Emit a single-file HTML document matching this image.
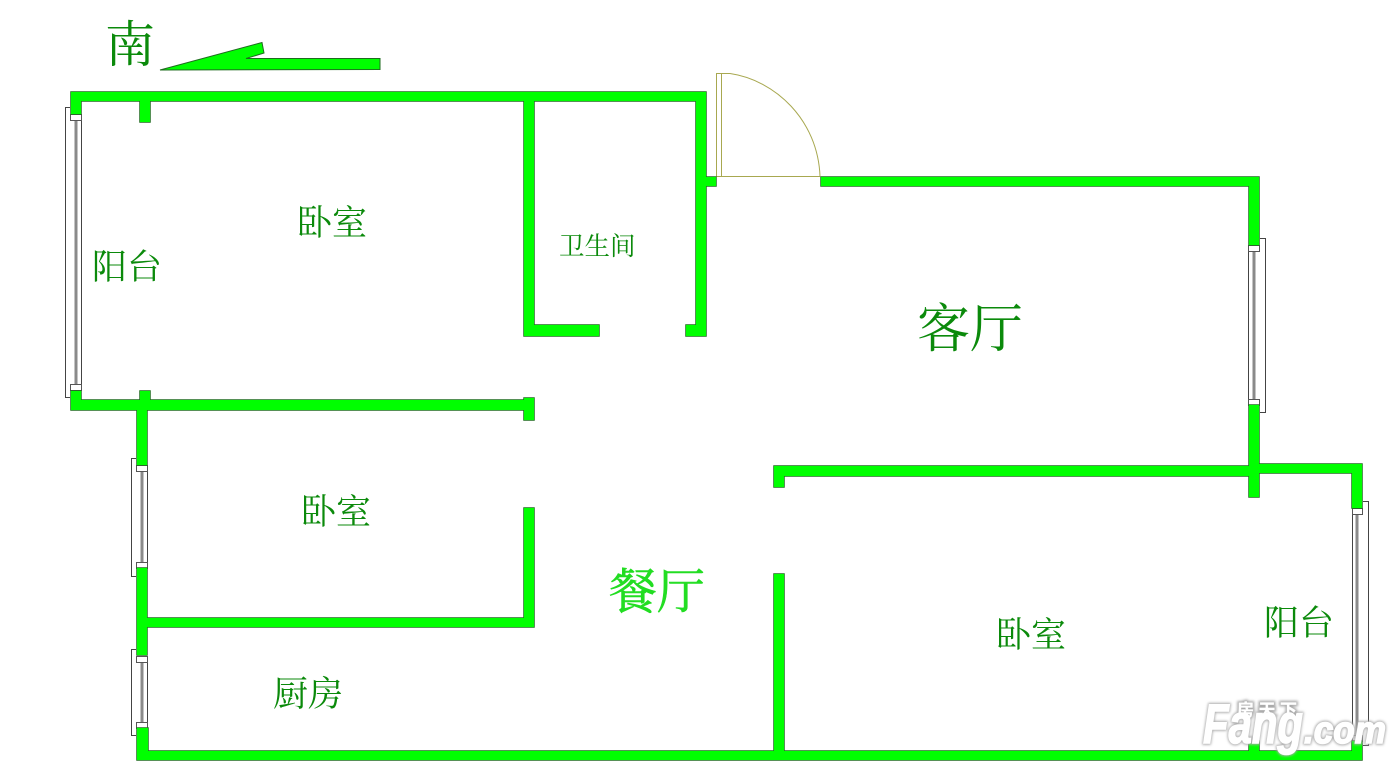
<!DOCTYPE html>
<html lang="zh"><head><meta charset="utf-8"><title>户型图</title>
<style>
html,body{margin:0;padding:0;background:#fff;width:1400px;height:769px;overflow:hidden}
svg{display:block}
.t{font-family:"Liberation Serif","Noto Serif CJK SC",serif;fill:#0b8a0b}
.w{fill:#fff;stroke:#555;stroke-width:1}
.f{fill:none;stroke:#444;stroke-width:1}
.g{fill:none;stroke:#8a8a8a;stroke-width:3}
</style></head><body>
<svg width="1400" height="769" viewBox="0 0 1400 769" xmlns="http://www.w3.org/2000/svg">
<defs><filter id="b" x="-10%" y="-20%" width="120%" height="140%"><feGaussianBlur stdDeviation="1.200"/></filter></defs>
<rect width="1400" height="769" fill="#fff"/>

<!-- windows -->
<g>
<path class="f" d="M70 107.500H65.500V397.500H70M81.500 120V385"/>
<path class="g" d="M76 120V384"/>
<rect class="w" x="70.500" y="114.500" width="11" height="6"/><rect class="w" x="70.500" y="384.500" width="11" height="6"/>

<path class="f" d="M136 458.500H131.500V576.500H136M147.500 471V563"/>
<path class="g" d="M142 471V563"/>
<rect class="w" x="136.500" y="465.500" width="11" height="6"/><rect class="w" x="136.500" y="562.500" width="11" height="6"/>

<path class="f" d="M136 649.500H131.500V735.500H136M147.500 662V722"/>
<path class="g" d="M142 662V722"/>
<rect class="w" x="136.500" y="656.500" width="11" height="6"/><rect class="w" x="136.500" y="722.500" width="11" height="6"/>

<path class="f" d="M1260 238.500H1265.500V412.500H1260M1248.500 251V399"/>
<path class="g" d="M1254 251V399"/>
<rect class="w" x="1248.500" y="245.500" width="11" height="6"/><rect class="w" x="1248.500" y="399.500" width="11" height="6"/>

<path class="f" d="M1363 501.500H1368.500V745.500H1363M1352.500 514V735"/>
<path class="g" d="M1357 514V735"/>
<rect class="w" x="1352.500" y="508.500" width="10" height="6"/><rect class="w" x="1352.500" y="735.500" width="10" height="6"/>
</g>

<!-- door -->
<g fill="none" stroke="#a8a850" stroke-width="1">
<path d="M716.500 176.500V73.500H730M721.500 73.500V176.500M716.500 176.500H820"/>
<path d="M730 73.500C775 80 818 120 820 176.500"/>
</g>

<!-- walls -->
<path fill="#00ff00" stroke="#1f6b1f" stroke-width="1.500" paint-order="stroke" stroke-linejoin="miter" d="
M71 92H706V101H71Z
M71 92H81V114H71Z
M140 101H150V122H140Z
M524 101H534V336H524Z
M524 325H599V336H524Z
M696 92H706V336H696Z
M686 325H706V336H686Z
M706 177H716V186H706Z
M821 177H1259V186H821Z
M1249 177H1259V245H1249Z
M1249 405H1259V497H1249Z
M774 466H1259V476H774Z
M1259 464H1362V473H1259Z
M1352 464H1362V508H1352Z
M774 466H784V487H774Z
M774 574H784V760H774Z
M137 751H1362V760H137Z
M137 728H148V760H137Z
M1352 741H1362V760H1352Z
M1249 741H1259V760H1249Z
M71 391H81V410H71Z
M71 400H524V410H71Z
M140 391H150V410H140Z
M524 398H534V420H524Z
M137 410H147V465H137Z
M137 568H147V655H137Z
M137 618H534V627H137Z
M524 508H534V627H524Z"/>

<!-- north arrow -->
<polygon points="160,70 262,42.500 264,53 246,58.500 380,58.500 380,69.500" fill="#00ff00" stroke="#1f6b1f" stroke-width="1"/>

<!-- labels -->
<text class="t" x="105" y="62" font-size="50">南</text>
<text class="t" x="297" y="235" font-size="35">卧室</text>
<text class="t" x="92" y="279" font-size="35">阳台</text>
<text class="t" x="559" y="255" font-size="25.500">卫生间</text>
<text class="t" x="917" y="347" font-size="53">客厅</text>
<text class="t" x="301" y="524" font-size="35">卧室</text>
<text class="t" x="273" y="706" font-size="35">厨房</text>
<text class="t" x="996" y="647" font-size="35">卧室</text>
<text class="t" x="1264" y="635" font-size="35">阳台</text>
<text x="609" y="608" font-size="48" stroke="#22dd22" stroke-width=".6" style="font-family:'Liberation Serif','Noto Serif CJK SC',serif;fill:#22dd22">餐厅</text>

<!-- watermark -->
<g style="font-family:'Liberation Sans','Noto Sans CJK SC',sans-serif" font-weight="700" font-style="italic" fill="#aaa" stroke="#aaa" stroke-width="3.500" filter="url(#b)">
<text x="1203" y="743" font-size="56" textLength="100" lengthAdjust="spacingAndGlyphs">Fang</text>
<text x="1304" y="743" font-size="38" textLength="82" lengthAdjust="spacingAndGlyphs">.com</text>
<text x="1237" y="716" font-size="17" textLength="60" font-style="normal">房天下</text>
</g>
<g style="font-family:'Liberation Sans','Noto Sans CJK SC',sans-serif" font-weight="700" font-style="italic" fill="#fff" stroke="#fff" stroke-width="1.500">
<text x="1203" y="743" font-size="56" textLength="100" lengthAdjust="spacingAndGlyphs">Fang</text>
<text x="1304" y="743" font-size="38" textLength="82" lengthAdjust="spacingAndGlyphs">.com</text>
<text x="1237" y="716" font-size="17" textLength="60" font-style="normal" stroke-width=".3">房天下</text>
</g>
</svg>
</body></html>
